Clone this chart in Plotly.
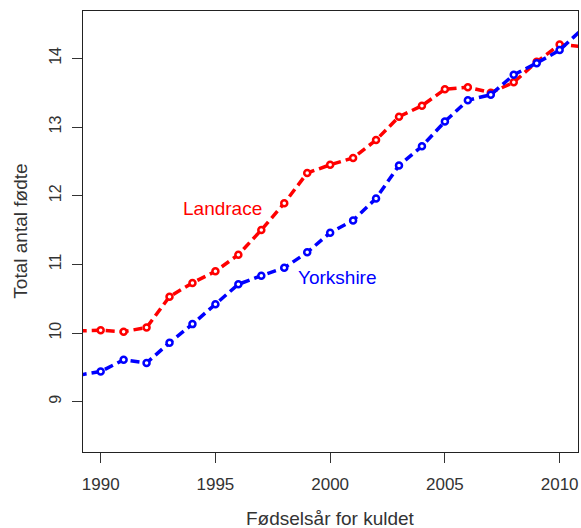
import plotly.graph_objects as go

years = list(range(1989, 2012))
landrace = [10.03, 10.04, 10.02, 10.08, 10.53, 10.73, 10.90, 11.14, 11.50, 11.89, 12.33,
            12.45, 12.55, 12.81, 13.15, 13.31, 13.55, 13.58, 13.50, 13.65, 13.95, 14.20, 14.17]
yorkshire = [9.385, 9.44, 9.61, 9.565, 9.86, 10.13, 10.42, 10.71, 10.835, 10.95, 11.175,
             11.46, 11.64, 11.96, 12.44, 12.72, 13.08, 13.39, 13.47, 13.76, 13.93, 14.12, 14.43]
xticks = [1990, 1995, 2000, 2005, 2010]
yticks = [9, 10, 11, 12, 13, 14]

FONT = "Liberation Sans, Arial, sans-serif"

fig = go.Figure()
for name, vals, col in [("Landrace", landrace, "#ff0000"), ("Yorkshire", yorkshire, "#0000ff")]:
    fig.add_trace(go.Scatter(
        x=years, y=vals, mode="lines+markers", name=name,
        line=dict(color=col, width=3.5, dash="9px,5px"),
        marker=dict(symbol="circle", size=6, color="white", line=dict(color=col, width=2.5)),
        showlegend=False,
    ))

fig.add_annotation(x=1995.33, y=11.81, text="Landrace", showarrow=False,
                   font=dict(family=FONT, size=19, color="#ff0000"))
fig.add_annotation(x=2000.34, y=10.81, text="Yorkshire", showarrow=False,
                   font=dict(family=FONT, size=19, color="#0000ff"))
fig.add_annotation(xref="paper", yref="paper", x=0.5, y=-0.15, yanchor="middle",
                   text="Fødselsår for kuldet", showarrow=False,
                   font=dict(family=FONT, size=19, color="#333333"))
fig.add_annotation(xref="paper", yref="paper", x=-0.127, y=0.5, xanchor="center",
                   text="Total antal fødte", showarrow=False, textangle=-90,
                   font=dict(family=FONT, size=19, color="#333333"))

fig.update_layout(
    width=581, height=528,
    margin=dict(l=83, r=3, t=11, b=76),
    paper_bgcolor="white", plot_bgcolor="white",
    font=dict(family=FONT, size=17, color="#333333"),
    xaxis=dict(range=[1989.23, 2010.8], tickvals=xticks, ticks="outside", ticklen=10,
               tickcolor="#333", showline=True, linecolor="#222", linewidth=1.3, mirror=True,
               showgrid=False, zeroline=False, tickfont=dict(size=17), ticklabelstandoff=6),
    yaxis=dict(range=[8.268, 14.689], tickvals=yticks, ticks="outside", ticklen=10,
               tickcolor="#333", showline=True, linecolor="#222", linewidth=1.3, mirror=True,
               showgrid=False, zeroline=False, tickangle=-90, tickfont=dict(size=16),
               ticklabelstandoff=4),
)

fig.write_html("out.html")
